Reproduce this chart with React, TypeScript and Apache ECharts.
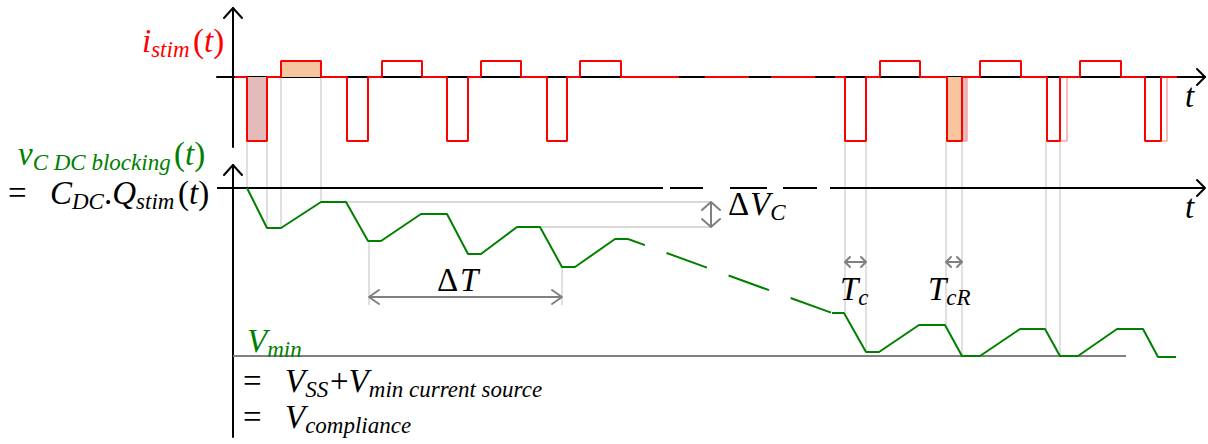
import React, { useEffect, useRef } from "react";
import * as echarts from "echarts";

// Time base: units along t, origin on the vertical axes.
// Stimulation current pulses (cathodic / anodic phases)
const negStart = [14, 114, 214, 314, 612, 714, 814, 912];
const negEnd = [34, 135, 235, 334, 633, 729, 827, 928];
const posStart = [48, 149, 248, 347, 647, 747, 847];
const posEnd = [88, 189, 288, 388, 687, 788, 888];
const NEG_AMP = -4;
const POS_AMP = 1;
// stretches where the current trace is drawn solid, and the dashed idle part
const currentRuns = [
  [2, 446],
  [602, 944],
];
const currentIdleDashes = [
  [472, 516],
  [538, 582],
];
// shortened cathodic pulses: [actual end, nominal end]
const nominalEnds = [
  [729, 734],
  [827, 834],
  [928, 934],
];

// DC-blocking capacitor voltage, first train
const vT1 = [14, 34, 48, 88, 113, 135, 148, 188, 214, 235, 248, 284, 307, 329, 342, 382, 395];
const vV1 = [0, -0.4, -0.4, -0.14, -0.14, -0.53, -0.53, -0.26, -0.26, -0.66, -0.66, -0.39, -0.39, -0.79, -0.79, -0.51, -0.51];
// long drift (dashed)
const vTDrift = [395, 599];
const vVDrift = [-0.51, -1.25];
// steady state at the compliance limit
const vT2 = [599, 611, 633, 646, 686, 712, 729, 747, 787, 812, 827, 845, 884, 910, 925, 943];
const vV2 = [-1.25, -1.25, -1.64, -1.64, -1.37, -1.37, -1.68, -1.68, -1.41, -1.41, -1.68, -1.68, -1.41, -1.41, -1.69, -1.69];
const V_MIN = -1.68;
const V_MIN_END = 893;

// time axis of the voltage plot, broken (dashed) in the middle
const tAxisSegments = [
  [-16, 430],
  [437, 470],
  [497, 534],
  [550, 584],
  [597, 972],
];

// guides from the current pulse edges down to the voltage trace
const guideT = [14, 34, 48, 88, 612, 633, 713, 729, 813, 827];
const guideI = [-4, -4, 0, 0, -4, -4, -4, -4, -4, -4];
const guideV = [0, -0.4, -0.4, -0.14, -1.25, -1.64, -1.37, -1.68, -1.41, -1.68];

const T_MIN = -16;
const T_MAX = 972;

const RED = "#ff0000";
const GREEN = "#008000";
const GRAY = "#808080";
const LIGHT = "#cccccc";
const PINK = "#e4baba";
const ORANGE = "#f8c69e";
const SERIF = "Liberation Serif";

const BREAK = ["-", "-"];

function buildCurrent() {
  const pulses = [
    ...negStart.map((s, k) => [s, negEnd[k], NEG_AMP]),
    ...posStart.map((s, k) => [s, posEnd[k], POS_AMP]),
  ].sort((a, b) => a[0] - b[0]);
  const out: any[] = [];
  currentRuns.forEach(([a, b]) => {
    out.push([a, 0]);
    pulses
      .filter((p) => p[0] >= a && p[1] <= b)
      .forEach(([s, e, amp]) => {
        out.push([s, 0], [s, amp], [e, amp], [e, 0]);
      });
    out.push([b, 0], BREAK);
  });
  currentIdleDashes.forEach(([a, b]) => out.push([a, 0], [b, 0], BREAK));
  return out;
}

function buildNominal() {
  const out: any[] = [];
  nominalEnds.forEach(([a, b]) => out.push([a, NEG_AMP], [b, NEG_AMP], [b, 0], BREAK));
  return out;
}

function zip(t: number[], v: number[]) {
  return t.map((x, k) => [x, v[k]]);
}

function buildAxisSegments() {
  const out: any[] = [];
  tAxisSegments.forEach(([a, b]) => out.push([a, 0], [b, 0], BREAK));
  return out;
}

// ---- math-like labels built from pieces: main italic (m), upright (u), subscript (s)
const MAIN = 33;
const SUB = 23;
const SUB_DROP = 5;
type Kind = "m" | "u" | "s";
// [text, kind, minimum offset from the label origin]
type Piece = [string, Kind, number?];

const measureCtx = document.createElement("canvas").getContext("2d");
function fontOf(kind: Kind) {
  const size = kind === "s" ? SUB : MAIN;
  return `${kind === "u" ? "normal" : "italic"} ${size}px "${SERIF}"`;
}
function measure(text: string, kind: Kind) {
  if (!measureCtx) return text.length * (kind === "s" ? 10 : 15);
  measureCtx.font = fontOf(kind);
  return measureCtx.measureText(text).width;
}

function label(x0: number, baseline: number, pieces: Piece[], color: string) {
  let cursor = x0;
  return pieces.map(([text, kind, dx]) => {
    if (dx !== undefined) cursor = Math.max(cursor, x0 + dx);
    const size = kind === "s" ? SUB : MAIN;
    const base = baseline + (kind === "s" ? SUB_DROP : 0);
    const el = {
      type: "text",
      x: cursor,
      y: base - 0.3375 * size,
      silent: true,
      z: 10,
      style: {
        text,
        fontFamily: SERIF,
        fontSize: size,
        fontStyle: kind === "u" ? "normal" : "italic",
        fill: color,
        align: "left",
        verticalAlign: "middle",
      },
    };
    cursor += measure(text, kind);
    return el;
  });
}

function chevron(tip: number[], dx: number, dy: number, back: number, spread: number, color: string, width: number) {
  const px = -dy;
  const py = dx;
  return {
    type: "polyline",
    silent: true,
    z: 10,
    shape: {
      points: [
        [tip[0] - dx * back + px * spread, tip[1] - dy * back + py * spread],
        [tip[0], tip[1]],
        [tip[0] - dx * back - px * spread, tip[1] - dy * back - py * spread],
      ],
    },
    style: { stroke: color, lineWidth: width, fill: null, lineCap: "round", lineJoin: "round" },
  };
}

function seg(a: number[], b: number[], color: string, width: number, z = 1) {
  return {
    type: "line",
    silent: true,
    z,
    shape: { x1: a[0], y1: a[1], x2: b[0], y2: b[1] },
    style: { stroke: color, lineWidth: width },
  };
}

function doubleArrow(a: number[], b: number[], back: number, spread: number) {
  const len = Math.hypot(b[0] - a[0], b[1] - a[1]);
  const dx = (b[0] - a[0]) / len;
  const dy = (b[1] - a[1]) / len;
  return [
    seg(a, b, GRAY, 2, 10),
    chevron(b, dx, dy, back, spread, GRAY, 2),
    chevron(a, -dx, -dy, back, spread, GRAY, 2),
  ];
}

export default function App() {
  const ref = useRef<HTMLDivElement>(null);

  useEffect(() => {
    if (!ref.current) return;
    const chart = echarts.init(ref.current, undefined, { renderer: "svg" });

    const hidden = {
      axisTick: { show: false },
      axisLabel: { show: false },
      splitLine: { show: false },
    };
    const blackAxis = { show: true, onZero: true, lineStyle: { color: "#000", width: 2 } };

    chart.setOption({
      animation: false,
      backgroundColor: "#fff",
      grid: [
        { left: 217, right: 3, top: 8, height: 139 },
        { left: 217, right: 3, top: 165, height: 272 },
      ],
      xAxis: [
        { type: "value", gridIndex: 0, min: T_MIN, max: T_MAX, axisLine: blackAxis, ...hidden },
        { type: "value", gridIndex: 1, min: T_MIN, max: T_MAX, axisLine: { show: false, onZero: true }, ...hidden },
      ],
      yAxis: [
        { type: "value", gridIndex: 0, min: -4.375, max: 4.3125, axisLine: blackAxis, ...hidden },
        { type: "value", gridIndex: 1, min: -2.49, max: 0.23, axisLine: blackAxis, ...hidden },
      ],
      series: [
        {
          name: "nominal pulse",
          type: "line",
          xAxisIndex: 0,
          yAxisIndex: 0,
          data: buildNominal(),
          symbol: "none",
          connectNulls: false,
          lineStyle: { color: "#f2a6a6", width: 1.5 },
          z: 2,
        },
        {
          name: "i_stim",
          type: "line",
          xAxisIndex: 0,
          yAxisIndex: 0,
          data: buildCurrent(),
          symbol: "none",
          connectNulls: false,
          lineStyle: { color: RED, width: 2 },
          z: 4,
          markArea: {
            silent: true,
            data: [
              [{ coord: [negStart[0], 0], itemStyle: { color: PINK } }, { coord: [negEnd[0], NEG_AMP] }],
              [{ coord: [posStart[0], 0], itemStyle: { color: ORANGE } }, { coord: [posEnd[0], POS_AMP] }],
              [{ coord: [negStart[5], 0], itemStyle: { color: ORANGE } }, { coord: [negEnd[5], NEG_AMP] }],
              [{ coord: [nominalEnds[0][0], 0], itemStyle: { color: PINK } }, { coord: [nominalEnds[0][1], NEG_AMP] }],
            ],
          },
        },
        {
          name: "t axis",
          type: "line",
          xAxisIndex: 1,
          yAxisIndex: 1,
          data: buildAxisSegments(),
          symbol: "none",
          connectNulls: false,
          lineStyle: { color: "#000", width: 2 },
          z: 1,
        },
        {
          name: "V_min",
          type: "line",
          xAxisIndex: 1,
          yAxisIndex: 1,
          data: [
            [0, V_MIN],
            [V_MIN_END, V_MIN],
          ],
          symbol: "none",
          lineStyle: { color: GRAY, width: 2 },
          z: 2,
        },
        {
          name: "v_C",
          type: "line",
          xAxisIndex: 1,
          yAxisIndex: 1,
          data: zip(vT1, vV1),
          symbol: "none",
          lineStyle: { color: GREEN, width: 2 },
          z: 4,
        },
        {
          name: "v_C drift",
          type: "line",
          xAxisIndex: 1,
          yAxisIndex: 1,
          data: zip(vTDrift, vVDrift),
          symbol: "none",
          lineStyle: { color: GREEN, width: 2, type: [43, 23], dashOffset: 25 },
          z: 4,
        },
        {
          name: "v_C steady",
          type: "line",
          xAxisIndex: 1,
          yAxisIndex: 1,
          data: zip(vT2, vV2),
          symbol: "none",
          lineStyle: { color: GREEN, width: 2 },
          z: 4,
        },
      ],
    });

    const pI = (t: number, i: number) => chart.convertToPixel({ gridIndex: 0 }, [t, i]) as number[];
    const pV = (t: number, v: number) => chart.convertToPixel({ gridIndex: 1 }, [t, v]) as number[];

    const g: any[] = [];

    // axis arrow heads
    g.push(chevron(pI(0, 4.3125), 0, -1, 10, 9, "#000", 2));
    g.push(chevron(pV(0, 0.23), 0, -1, 10, 9, "#000", 2));
    g.push(chevron(pI(T_MAX, 0), 1, 0, 8, 8, "#000", 2));
    g.push(chevron(pV(T_MAX, 0), 1, 0, 8, 8, "#000", 2));

    // vertical guides between the two plots
    guideT.forEach((t, k) => {
      g.push(seg(pI(t, guideI[k]), pV(t, guideV[k]), LIGHT, 1.2, 0));
    });

    // ΔV_C
    const dvT = 478;
    g.push(seg(pV(88, -0.14), pV(dvT, -0.14), LIGHT, 1.5, 0));
    g.push(seg(pV(307, -0.39), pV(dvT, -0.39), LIGHT, 1.5, 0));
    g.push(...doubleArrow(pV(dvT, -0.14), pV(dvT, -0.39), 8, 9));

    // ΔT
    g.push(seg(pV(136, -0.53), pV(136, -1.17), LIGHT, 1.2, 0));
    g.push(seg(pV(329, -0.79), pV(329, -1.17), LIGHT, 1.2, 0));
    g.push(...doubleArrow(pV(136, -1.09), pV(329, -1.09), 10, 7));

    // T_c and T_cR
    g.push(...doubleArrow(pV(612, -0.74), pV(633, -0.74), 5, 5));
    g.push(...doubleArrow(pV(713, -0.74), pV(729, -0.74), 5, 5));

    // axis titles
    g.push(...label(142, 52, [["i", "m"], ["stim", "s"], ["(", "u", 51], ["t", "m"], [")", "u"]], RED));
    g.push(...label(18, 165, [["v", "m"], ["C DC blocking", "s"], ["(", "u", 156], ["t", "m"], [")", "u"]], GREEN));
    g.push(
      ...label(
        8,
        204,
        [["=", "u"], ["C", "m", 42], ["DC", "s"], [".", "u", 94], ["Q", "m", 104], ["stim", "s"], ["(", "u", 170], ["t", "m"], [")", "u"]],
        "#000"
      )
    );
    const tTop = pI(T_MAX, 0);
    g.push(...label(tTop[0] - 20, tTop[1] + 30, [["t", "m"]], "#000"));
    const tBot = pV(T_MAX, 0);
    g.push(...label(tBot[0] - 20, tBot[1] + 30, [["t", "m"]], "#000"));

    // annotation labels
    const lv = pV(495, -0.27);
    g.push(...label(lv[0], lv[1], [["Δ", "u"], ["V", "m", 22], ["C", "s"]], "#000"));
    const lt = pV(204, -1.03);
    g.push(...label(lt[0], lt[1], [["Δ", "u"], ["T", "m", 23]], "#000"));
    const lc = pV(607, -1.12);
    g.push(...label(lc[0], lc[1], [["T", "m"], ["c", "s"]], "#000"));
    const lr = pV(695, -1.12);
    g.push(...label(lr[0], lr[1], [["T", "m"], ["cR", "s"]], "#000"));
    const lm = pV(14, -1.64);
    g.push(...label(lm[0], lm[1], [["V", "m"], ["min", "s"]], GREEN));
    const l1 = pV(10, -2.04);
    g.push(
      ...label(
        l1[0],
        l1[1],
        [["=", "u"], ["V", "m", 42], ["SS", "s"], ["+", "u", 87], ["V", "m", 105], ["min current source", "s"]],
        "#000"
      )
    );
    const l2 = pV(10, -2.4);
    g.push(...label(l2[0], l2[1], [["=", "u"], ["V", "m", 42], ["compliance", "s"]], "#000"));

    chart.setOption({ graphic: g });

    return () => chart.dispose();
  }, []);

  return (
    <div
      ref={ref}
      style={{ position: "fixed", left: 0, top: 0, width: 1208, height: 444, background: "#fff" }}
    />
  );
}
